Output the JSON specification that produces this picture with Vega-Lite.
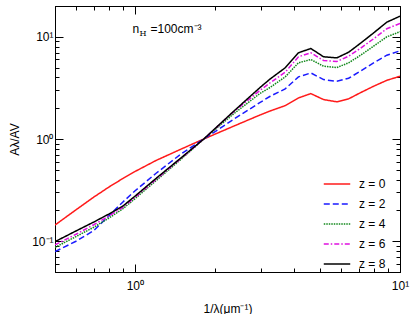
{
  "$schema": "https://vega.github.io/schema/vega-lite/v6.json",
  "width": 345,
  "height": 266,
  "autosize": {"type": "none"},
  "padding": {"left": 55, "top": 6, "right": 15, "bottom": 42},
  "background": "white",
  "config": {
    "font": "Liberation Sans",
    "view": {"stroke": "black", "strokeWidth": 1},
    "axis": {
      "grid": false,
      "domainColor": "black",
      "tickColor": "black",
      "labelColor": "black",
      "titleColor": "black",
      "labelFontSize": 12,
      "titleFontSize": 12,
      "titleFontWeight": "normal",
      "labelFont": "Liberation Sans",
      "titleFont": "Liberation Sans"
    }
  },
  "datasets": {
    "curves": [
      {"x":0.5,"y":0.144,"z":"z = 0"},{"x":0.6,"y":0.203,"z":"z = 0"},{"x":0.7,"y":0.27,"z":"z = 0"},{"x":0.8,"y":0.34,"z":"z = 0"},{"x":0.9,"y":0.41,"z":"z = 0"},{"x":1.0,"y":0.48,"z":"z = 0"},{"x":1.2,"y":0.615,"z":"z = 0"},{"x":1.5,"y":0.8,"z":"z = 0"},{"x":1.82,"y":1.0,"z":"z = 0"},{"x":2.35,"y":1.33,"z":"z = 0"},{"x":2.97,"y":1.72,"z":"z = 0"},{"x":3.24,"y":1.88,"z":"z = 0"},{"x":3.69,"y":2.12,"z":"z = 0"},{"x":4.14,"y":2.52,"z":"z = 0"},{"x":4.61,"y":2.78,"z":"z = 0"},{"x":5.15,"y":2.43,"z":"z = 0"},{"x":5.78,"y":2.31,"z":"z = 0"},{"x":6.4,"y":2.47,"z":"z = 0"},{"x":7.08,"y":2.83,"z":"z = 0"},{"x":7.95,"y":3.28,"z":"z = 0"},{"x":8.92,"y":3.75,"z":"z = 0"},{"x":10,"y":4.11,"z":"z = 0"},
      {"x":0.5,"y":0.079,"z":"z = 2"},{"x":0.6,"y":0.1,"z":"z = 2"},{"x":0.7,"y":0.127,"z":"z = 2"},{"x":0.8,"y":0.178,"z":"z = 2"},{"x":0.9,"y":0.241,"z":"z = 2"},{"x":1.0,"y":0.31,"z":"z = 2"},{"x":1.2,"y":0.46,"z":"z = 2"},{"x":1.5,"y":0.72,"z":"z = 2"},{"x":1.82,"y":1.0,"z":"z = 2"},{"x":2.35,"y":1.55,"z":"z = 2"},{"x":2.97,"y":2.28,"z":"z = 2"},{"x":3.24,"y":2.62,"z":"z = 2"},{"x":3.69,"y":3.09,"z":"z = 2"},{"x":4.14,"y":4.05,"z":"z = 2"},{"x":4.61,"y":4.43,"z":"z = 2"},{"x":5.15,"y":3.81,"z":"z = 2"},{"x":5.78,"y":3.67,"z":"z = 2"},{"x":6.4,"y":3.93,"z":"z = 2"},{"x":7.08,"y":4.6,"z":"z = 2"},{"x":7.95,"y":5.56,"z":"z = 2"},{"x":8.92,"y":6.6,"z":"z = 2"},{"x":10,"y":7.29,"z":"z = 2"},
      {"x":0.5,"y":0.087,"z":"z = 4"},{"x":0.6,"y":0.111,"z":"z = 4"},{"x":0.7,"y":0.137,"z":"z = 4"},{"x":0.8,"y":0.169,"z":"z = 4"},{"x":0.9,"y":0.207,"z":"z = 4"},{"x":1.0,"y":0.26,"z":"z = 4"},{"x":1.2,"y":0.39,"z":"z = 4"},{"x":1.5,"y":0.64,"z":"z = 4"},{"x":1.82,"y":1.0,"z":"z = 4"},{"x":2.35,"y":1.75,"z":"z = 4"},{"x":2.97,"y":2.8,"z":"z = 4"},{"x":3.24,"y":3.2,"z":"z = 4"},{"x":3.69,"y":4.05,"z":"z = 4"},{"x":4.14,"y":5.56,"z":"z = 4"},{"x":4.61,"y":5.99,"z":"z = 4"},{"x":5.15,"y":5.15,"z":"z = 4"},{"x":5.78,"y":5.0,"z":"z = 4"},{"x":6.4,"y":5.56,"z":"z = 4"},{"x":7.08,"y":6.56,"z":"z = 4"},{"x":7.95,"y":8.09,"z":"z = 4"},{"x":8.92,"y":10.0,"z":"z = 4"},{"x":10,"y":11.2,"z":"z = 4"},
      {"x":0.5,"y":0.092,"z":"z = 6"},{"x":0.6,"y":0.117,"z":"z = 6"},{"x":0.7,"y":0.145,"z":"z = 6"},{"x":0.8,"y":0.177,"z":"z = 6"},{"x":0.9,"y":0.214,"z":"z = 6"},{"x":1.0,"y":0.268,"z":"z = 6"},{"x":1.2,"y":0.4,"z":"z = 6"},{"x":1.5,"y":0.65,"z":"z = 6"},{"x":1.82,"y":1.0,"z":"z = 6"},{"x":2.35,"y":1.83,"z":"z = 6"},{"x":2.97,"y":3.0,"z":"z = 6"},{"x":3.24,"y":3.55,"z":"z = 6"},{"x":3.69,"y":4.5,"z":"z = 6"},{"x":4.14,"y":6.37,"z":"z = 6"},{"x":4.61,"y":6.97,"z":"z = 6"},{"x":5.15,"y":5.86,"z":"z = 6"},{"x":5.78,"y":5.73,"z":"z = 6"},{"x":6.4,"y":6.45,"z":"z = 6"},{"x":7.08,"y":7.68,"z":"z = 6"},{"x":7.95,"y":9.55,"z":"z = 6"},{"x":8.92,"y":12.0,"z":"z = 6"},{"x":10,"y":13.5,"z":"z = 6"},
      {"x":0.5,"y":0.099,"z":"z = 8"},{"x":0.6,"y":0.126,"z":"z = 8"},{"x":0.7,"y":0.154,"z":"z = 8"},{"x":0.8,"y":0.185,"z":"z = 8"},{"x":0.9,"y":0.22,"z":"z = 8"},{"x":1.0,"y":0.275,"z":"z = 8"},{"x":1.2,"y":0.41,"z":"z = 8"},{"x":1.5,"y":0.66,"z":"z = 8"},{"x":1.82,"y":1.0,"z":"z = 8"},{"x":2.35,"y":1.85,"z":"z = 8"},{"x":2.97,"y":3.2,"z":"z = 8"},{"x":3.24,"y":3.87,"z":"z = 8"},{"x":3.69,"y":4.97,"z":"z = 8"},{"x":4.14,"y":6.97,"z":"z = 8"},{"x":4.61,"y":7.68,"z":"z = 8"},{"x":5.15,"y":6.37,"z":"z = 8"},{"x":5.78,"y":6.22,"z":"z = 8"},{"x":6.4,"y":7.06,"z":"z = 8"},{"x":7.08,"y":8.6,"z":"z = 8"},{"x":7.95,"y":10.9,"z":"z = 8"},{"x":8.92,"y":13.9,"z":"z = 8"},{"x":10,"y":15.9,"z":"z = 8"}
    ],
    "note": [{"x": 0.98, "y": 10.8}]
  },
  "layer": [
    {
      "data": {"name": "curves"},
      "mark": {"type": "line", "strokeWidth": 1.5, "clip": true},
      "encoding": {
        "x": {
          "field": "x", "type": "quantitative",
          "scale": {"type": "log", "domain": [0.5, 10], "nice": false},
          "axis": {
            "orient": "bottom",
            "title": "1/λ(μm⁻¹)",
            "titlePadding": 8,
            "values": [0.5,0.6,0.7,0.8,0.9,1,2,3,4,5,6,7,8,9,10],
            "labelExpr": "datum.value == 1 ? '10⁰' : (datum.value == 10 ? '10¹' : '')",
            "tickSize": {"condition": {"test": "datum.value == 1 || datum.value == 10", "value": -8}, "value": -4},
            "labelPadding": 16,
            "labelOverlap": false,
            "labelFlush": false
          }
        },
        "y": {
          "field": "y", "type": "quantitative",
          "scale": {"type": "log", "domain": [0.05, 20], "nice": false},
          "axis": {
            "orient": "left",
            "title": "Aλ/AV",
            "titlePadding": 10,
            "values": [0.05,0.06,0.07,0.08,0.09,0.1,0.2,0.3,0.4,0.5,0.6,0.7,0.8,0.9,1,2,3,4,5,6,7,8,9,10,20],
            "labelExpr": "datum.value == 1 ? '10⁰' : (datum.value == 10 ? '10¹' : (datum.value == 0.1 ? '10⁻¹' : ''))",
            "tickSize": {"condition": {"test": "datum.value == 1 || datum.value == 10 || datum.value == 0.1", "value": -8}, "value": -4},
            "labelPadding": 10,
            "labelOverlap": false,
            "labelFlush": false
          }
        },
        "color": {
          "field": "z", "type": "nominal",
          "scale": {"domain": ["z = 0","z = 2","z = 4","z = 6","z = 8"], "range": ["#ff1a1a","#1a1aff","#11881a","#e010e0","#000000"]},
          "legend": {
            "title": null,
            "orient": "none",
            "legendX": 268,
            "legendY": 164,
            "symbolType": "stroke",
            "symbolSize": 700,
            "symbolStrokeWidth": 1.5,
            "labelFontSize": 12,
            "labelColor": "black",
            "rowPadding": -5,
            "labelOffset": 8
          }
        },
        "strokeDash": {
          "field": "z", "type": "nominal",
          "scale": {"domain": ["z = 0","z = 2","z = 4","z = 6","z = 8"], "range": [[1,0],[6,3],[1.5,1],[5,2,1.5,2],[1,0]]},
          "legend": {
            "title": null,
            "orient": "none",
            "legendX": 268,
            "legendY": 164,
            "symbolType": "stroke",
            "symbolSize": 700,
            "symbolStrokeWidth": 1.5,
            "labelFontSize": 12,
            "labelColor": "black",
            "rowPadding": -5,
            "labelOffset": 8
          }
        }
      }
    },
    {
      "data": {"name": "curves"},
      "mark": {"type": "point", "opacity": 0},
      "encoding": {
        "x": {
          "field": "x", "type": "quantitative",
          "scale": {"type": "log", "domain": [0.5, 10], "nice": false},
          "axis": {
            "orient": "top", "title": null, "labels": false,
            "values": [0.5,0.6,0.7,0.8,0.9,1,2,3,4,5,6,7,8,9,10],
            "tickSize": {"condition": {"test": "datum.value == 1 || datum.value == 10", "value": -8}, "value": -4}
          }
        },
        "y": {
          "field": "y", "type": "quantitative",
          "scale": {"type": "log", "domain": [0.05, 20], "nice": false},
          "axis": {
            "orient": "right", "title": null, "labels": false,
            "values": [0.05,0.06,0.07,0.08,0.09,0.1,0.2,0.3,0.4,0.5,0.6,0.7,0.8,0.9,1,2,3,4,5,6,7,8,9,10,20],
            "tickSize": {"condition": {"test": "datum.value == 1 || datum.value == 10 || datum.value == 0.1", "value": -8}, "value": -4}
          }
        }
      }
    },
    {
      "data": {"name": "note"},
      "mark": {"type": "text", "text": "n", "align": "left", "baseline": "alphabetic", "fontSize": 12, "font": "Liberation Sans", "color": "black"},
      "encoding": {
        "x": {"field": "x", "type": "quantitative", "axis": null},
        "y": {"field": "y", "type": "quantitative", "axis": null}
      }
    },
    {
      "data": {"name": "note"},
      "mark": {"type": "text", "text": "H", "align": "left", "baseline": "alphabetic", "fontSize": 8, "font": "DejaVu Serif", "dx": 7, "dy": 3, "color": "black"},
      "encoding": {
        "x": {"field": "x", "type": "quantitative", "axis": null},
        "y": {"field": "y", "type": "quantitative", "axis": null}
      }
    },
    {
      "data": {"name": "note"},
      "mark": {"type": "text", "text": "=100cm⁻³", "align": "left", "baseline": "alphabetic", "fontSize": 12, "font": "Liberation Sans", "dx": 18, "color": "black"},
      "encoding": {
        "x": {"field": "x", "type": "quantitative", "axis": null},
        "y": {"field": "y", "type": "quantitative", "axis": null}
      }
    }
  ],
  "resolve": {"axis": {"x": "independent", "y": "independent"}}
}
